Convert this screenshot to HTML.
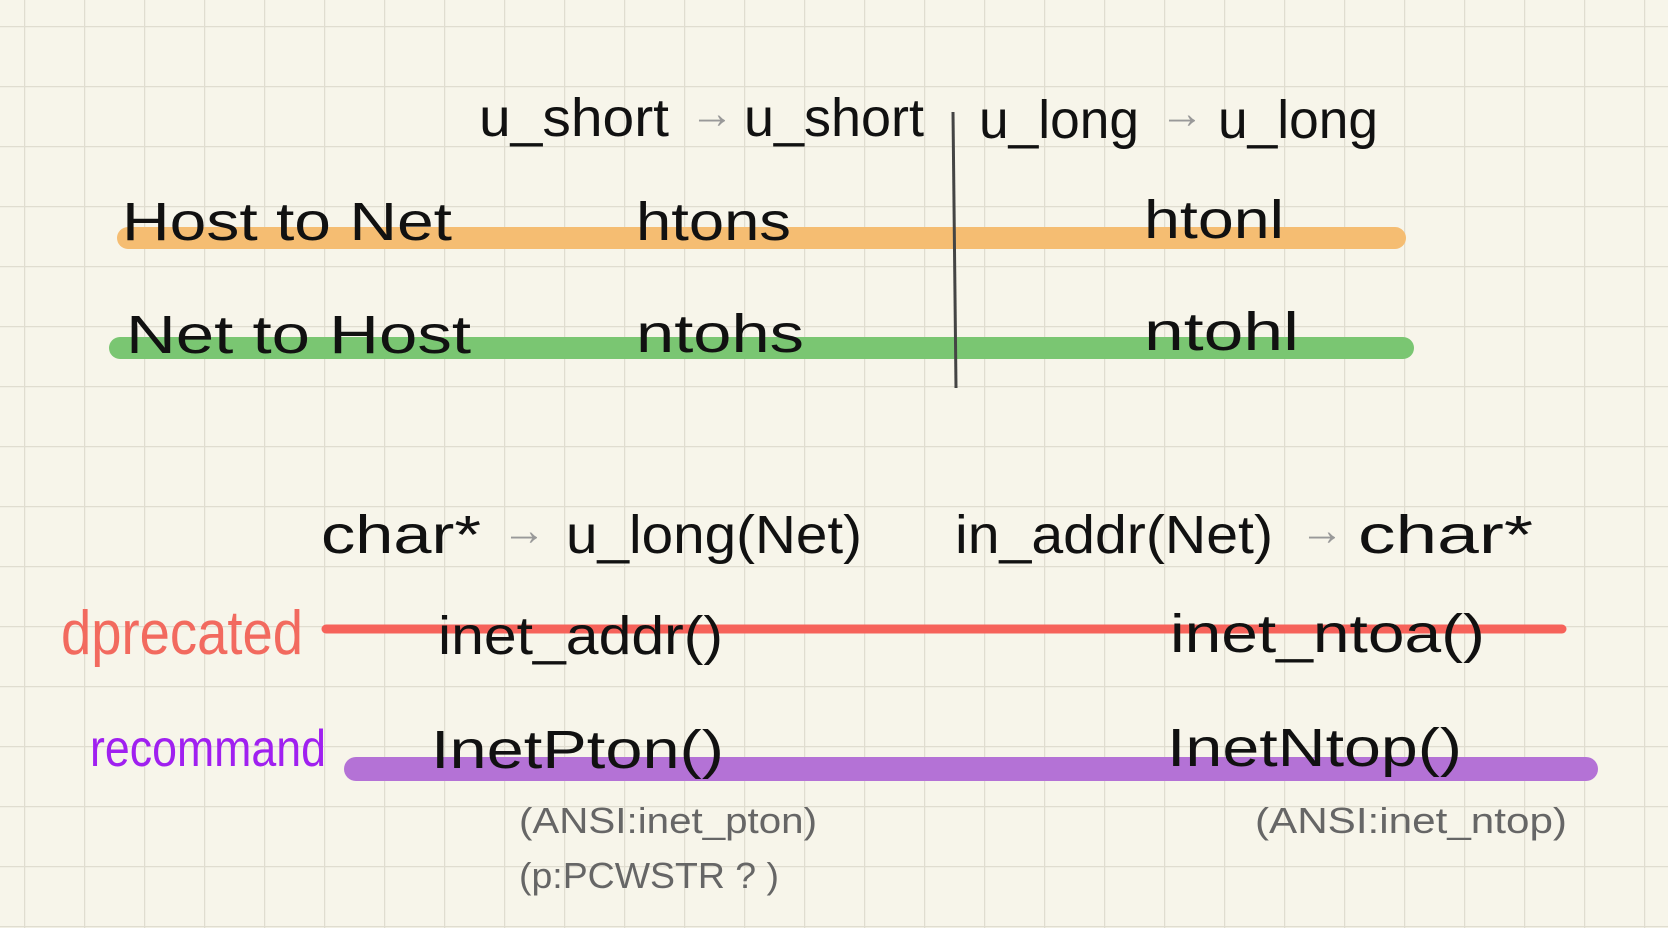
<!DOCTYPE html>
<html><head><meta charset="utf-8"><style>
html,body{margin:0;padding:0;}
body{width:1668px;height:928px;overflow:hidden;background:#f7f5ea;}
svg{display:block}
text{font-family:"Liberation Sans",sans-serif;}
</style></head><body>
<svg width="1668" height="928" viewBox="0 0 1668 928" xmlns="http://www.w3.org/2000/svg">
<defs>
<pattern id="g" x="24" y="26" width="60" height="60" patternUnits="userSpaceOnUse">
<path d="M0 0V60M0 0H60" stroke="#e0ddd0" stroke-width="2.5" fill="none"/>
</pattern>
</defs>
<rect width="1668" height="928" fill="#f7f5ea"/>
<rect width="1668" height="928" fill="url(#g)"/>

<!-- highlight bars -->
<line x1="128" y1="238" x2="1395" y2="238" stroke="#f5bd72" stroke-width="22" stroke-linecap="round"/>
<line x1="120" y1="348" x2="1403" y2="348" stroke="#7ac672" stroke-width="22" stroke-linecap="round"/>
<line x1="326" y1="629" x2="1562" y2="629" stroke="#f6625a" stroke-width="9" stroke-linecap="round"/>
<line x1="356" y1="769" x2="1586" y2="769" stroke="#b472d6" stroke-width="24" stroke-linecap="round"/>
<line x1="953" y1="112" x2="956" y2="388" stroke="#444" stroke-width="3"/>

<g fill="#111" font-size="54">
<text x="479" y="136" textLength="190" lengthAdjust="spacingAndGlyphs">u_short</text>
<text x="690" y="128" fill="#999" font-size="44">→</text>
<text x="744" y="136" textLength="180" lengthAdjust="spacingAndGlyphs">u_short</text>
<text x="979" y="138" textLength="160" lengthAdjust="spacingAndGlyphs">u_long</text>
<text x="1160" y="128" fill="#999" font-size="44">→</text>
<text x="1218" y="138" textLength="160" lengthAdjust="spacingAndGlyphs">u_long</text>

<text x="122" y="240" textLength="330" lengthAdjust="spacingAndGlyphs">Host to Net</text>
<text x="636" y="240" textLength="155" lengthAdjust="spacingAndGlyphs">htons</text>
<text x="1144" y="238" textLength="140" lengthAdjust="spacingAndGlyphs">htonl</text>
<text x="126" y="353" textLength="345" lengthAdjust="spacingAndGlyphs">Net to Host</text>
<text x="636" y="352" textLength="168" lengthAdjust="spacingAndGlyphs">ntohs</text>
<text x="1144" y="350" textLength="155" lengthAdjust="spacingAndGlyphs">ntohl</text>

<text x="321" y="553" textLength="160" lengthAdjust="spacingAndGlyphs">char*</text>
<text x="502" y="545" fill="#999" font-size="44">→</text>
<text x="566" y="553" textLength="296" lengthAdjust="spacingAndGlyphs">u_long(Net)</text>
<text x="955" y="553" textLength="318" lengthAdjust="spacingAndGlyphs">in_addr(Net)</text>
<text x="1300" y="545" fill="#999" font-size="44">→</text>
<text x="1358" y="553" textLength="175" lengthAdjust="spacingAndGlyphs">char*</text>

<text x="438" y="654" textLength="285" lengthAdjust="spacingAndGlyphs">inet_addr()</text>
<text x="1170" y="652" textLength="315" lengthAdjust="spacingAndGlyphs">inet_ntoa()</text>
<text x="431" y="768" textLength="293" lengthAdjust="spacingAndGlyphs">InetPton()</text>
<text x="1167" y="766" textLength="295" lengthAdjust="spacingAndGlyphs">InetNtop()</text>
</g>
<text x="61" y="654" fill="#f26a5f" font-size="62" textLength="242" lengthAdjust="spacingAndGlyphs">dprecated</text>
<text x="90" y="766" fill="#a020f0" font-size="52" textLength="236" lengthAdjust="spacingAndGlyphs">recommand</text>

<g fill="#666" font-size="36">
<text x="519" y="833" textLength="298" lengthAdjust="spacingAndGlyphs">(ANSI:inet_pton)</text>
<text x="519" y="888" textLength="260" lengthAdjust="spacingAndGlyphs">(p:PCWSTR ? )</text>
<text x="1255" y="833" textLength="312" lengthAdjust="spacingAndGlyphs">(ANSI:inet_ntop)</text>
</g>
</svg>
</body></html>
